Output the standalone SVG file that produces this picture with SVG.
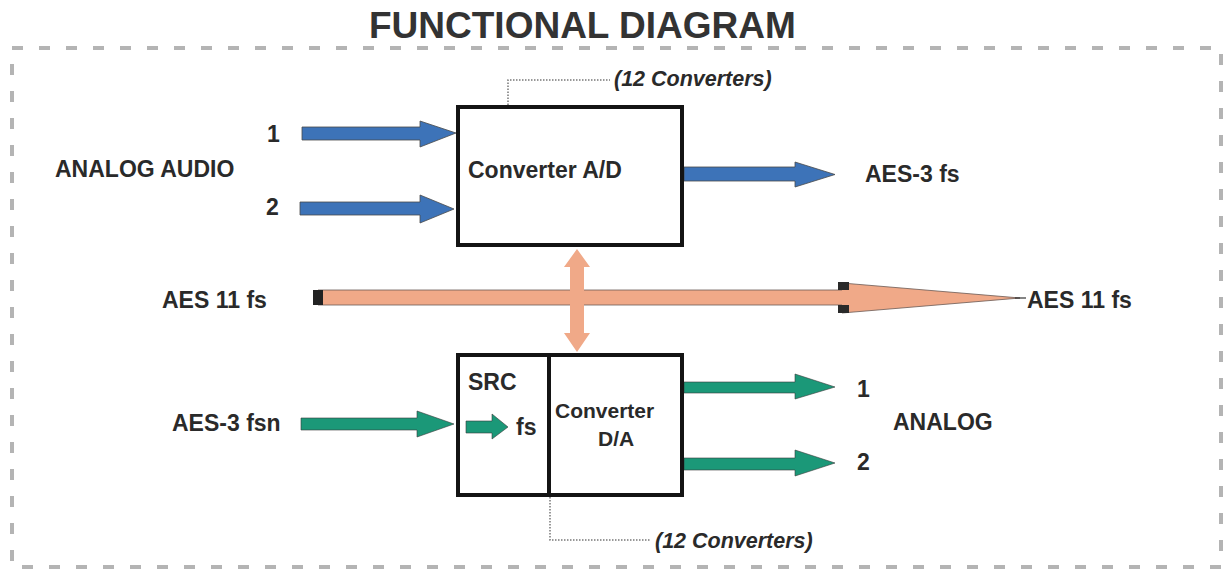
<svg xmlns="http://www.w3.org/2000/svg" width="1224" height="571" viewBox="0 0 1224 571">
<style>
text{font-family:"Liberation Sans",Arial,sans-serif;font-weight:bold;fill:#2a2a2a;font-size:23px}
.title{font-size:37px;fill:#333}
.it{font-style:italic;font-size:21.5px}
.sm{font-size:21px}
.box{fill:#fff;stroke:#141414;stroke-width:4}
.blue{fill:#3d73b8;stroke:#4a4a4a;stroke-width:0.8}
.green{fill:#1b9878;stroke:#3a3a3a;stroke-width:0.6}
.salmon{fill:#f0a988;stroke:#6a5a55;stroke-width:0.8}
.dot{fill:none;stroke:#777;stroke-width:1.5;stroke-dasharray:1.5 1.5}
</style>
<rect x="12" y="48" width="1209" height="519" fill="none" stroke="#b4b4b4" stroke-width="4" stroke-dasharray="11 16"/>
<text class="title" x="369" y="38">FUNCTIONAL DIAGRAM</text>

<g id="connectors">
  <polygon class="blue" points="302,127 420,127 420,121 456,133 420,147 420,140 302,140"/>
  <polygon class="blue" points="300,202 420,202 420,195 454,209 420,223 420,215 300,215"/>
  <polygon class="blue" points="684,167 795,167 795,162 835,174.5 795,187 795,181 684,181"/>
  <polygon class="salmon" points="318,290 842,290 842,283 1020,298 842,313 842,305 318,305"/>
  <rect x="313" y="290" width="10" height="15" fill="#222"/>
  <rect x="838" y="282" width="11" height="8" fill="#2a2a2a"/>
  <rect x="838" y="305" width="11" height="8" fill="#2a2a2a"/>
  <line x1="1015" y1="298" x2="1026" y2="298" stroke="#333" stroke-width="1.2"/>
  <polygon points="577,249 590,267 584,267 584,333 590,333 577,352 564,333 570,333 570,267 564,267" fill="#f0a988"/>
  <polygon class="green" points="301,418 417,418 417,411 454,424 417,437 417,430 301,430"/>
  <polygon class="green" points="684,382 795,382 795,374 835,387 795,399 795,393 684,393"/>
  <polygon class="green" points="684,458 795,458 795,450 835,463 795,476 795,470 684,470"/>
  <polyline class="dot" points="508,105 508,80 610,80"/>
  <polyline class="dot" points="550,497 550,540 651,540"/>
</g>

<g id="node-ad">
  <rect class="box" x="458" y="107" width="224" height="138"/>
  <text x="468" y="178">Converter A/D</text>
</g>
<g id="node-da">
  <rect class="box" x="458" y="355" width="224" height="140"/>
  <line x1="549" y1="355" x2="549" y2="495" stroke="#141414" stroke-width="4"/>
  <polygon class="green" points="466,421 492,421 492,414 508,427 492,439 492,433 466,433"/>
  <text x="468" y="390">SRC</text>
  <text x="516" y="435">fs</text>
  <text class="sm" x="555" y="418">Converter</text>
  <text class="sm" x="598" y="446">D/A</text>
</g>

<g id="labels">
  <text x="55" y="177">ANALOG AUDIO</text>
  <text x="267" y="142">1</text>
  <text x="266" y="215">2</text>
  <text x="865" y="182">AES-3 fs</text>
  <text x="162" y="308">AES 11 fs</text>
  <text x="1027" y="308">AES 11 fs</text>
  <text x="172" y="431">AES-3 fsn</text>
  <text x="857" y="397">1</text>
  <text x="857" y="470">2</text>
  <text x="893" y="430">ANALOG</text>
  <text class="it" x="614" y="86">(12 Converters)</text>
  <text class="it" x="655" y="548">(12 Converters)</text>
</g>
</svg>
